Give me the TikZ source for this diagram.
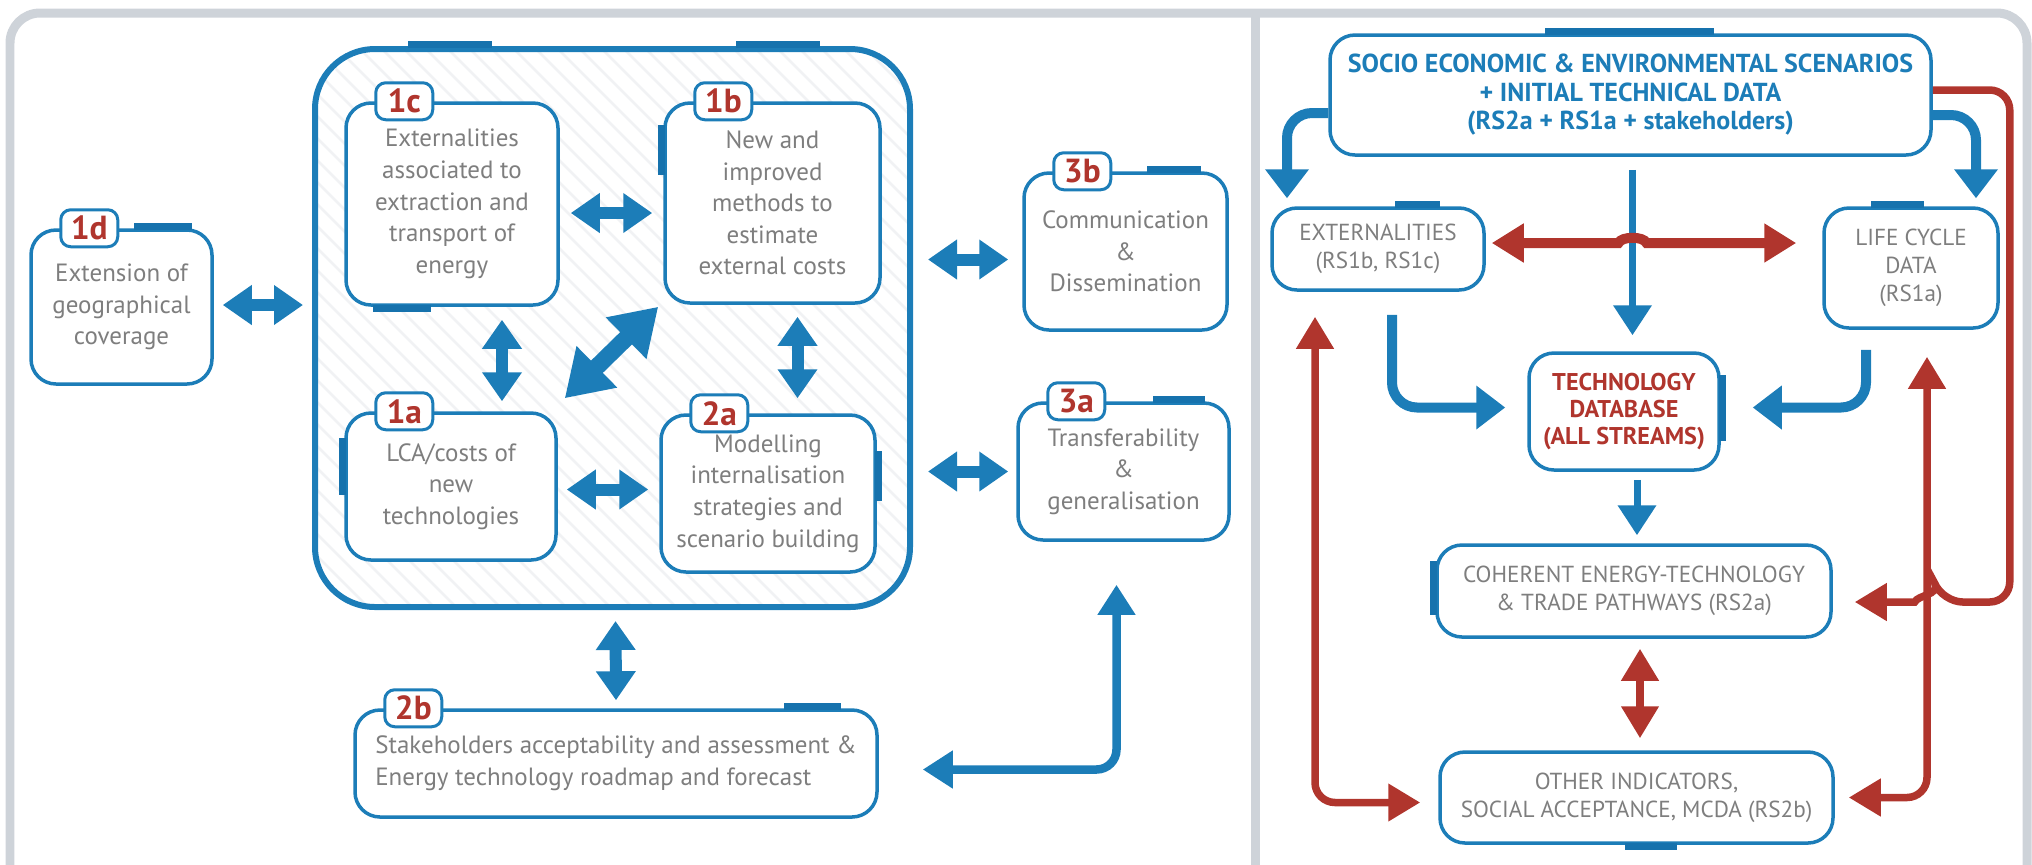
\documentclass[tikz,border=0pt]{standalone}
\usepackage{fontspec}
\setmainfont{PT Sans}
\usepackage{xcolor}
\usepackage{tikz}
\usetikzlibrary{arrows.meta, positioning, calc}

\definecolor{sfblue}{HTML}{1C7DB8}
\definecolor{sfdark}{HTML}{1672AD}
\definecolor{sfred}{HTML}{B0352D}
\definecolor{sfgray}{HTML}{7E7E7E}
\definecolor{sfframe}{HTML}{CED3D9}
\definecolor{sfhatch}{HTML}{F1F2F4}

\begin{document}
\begin{tikzpicture}[x=0.1mm, y=-0.1mm,
    box/.style={draw=sfblue, fill=white, line width=0.35mm, rounded corners=2.5mm,
      inner sep=0pt, align=center, text=sfgray, font=\fontsize{7.1}{9}\selectfont},
    capsbox/.style={box, font=\fontsize{6.6}{8}\selectfont},
    badge/.style={draw=sfblue, fill=white, line width=0.3mm, rounded corners=1mm,
      minimum width=5.7mm, minimum height=3.7mm, inner sep=0pt,
      text=sfred, font=\fontsize{9.5}{10}\selectfont\bfseries},
    tab/.style={draw=sfdark, line width=0.7mm},
    dblarrow/.style={draw=sfblue, line width=1.2mm, >={Triangle[width=3.8mm, length=2.9mm]}, <->},
    diagarrow/.style={draw=sfblue, line width=1.7mm, >={Triangle[width=5.5mm, length=4.5mm]}, <->},
    elbowarrow/.style={draw=sfblue, line width=0.85mm, rounded corners=2mm,
      >={Triangle[width=3.6mm, length=3mm]}, <->},
    flowarrow/.style={draw=sfblue, line width=1mm, rounded corners=2.5mm,
      >={Triangle[width=4.2mm, length=2.9mm]}, ->},
    thinarrow/.style={draw=sfblue, line width=0.7mm, >={Triangle[width=3.7mm, length=3mm]}, ->},
    redarrow/.style={draw=sfred, line width=0.75mm, rounded corners=2mm,
      >={Triangle[width=3.6mm, length=3.2mm]}},
    redblk/.style={draw=sfred, line width=1mm, >={Triangle[width=3.7mm, length=3.2mm]}, <->}
  ]
  \useasboundingbox (0,0) rectangle (2032,864);

  % --- Frame ---
  \draw[sfframe, line width=0.9mm, rounded corners=3mm] (10,13) rectangle (2027,900);
  \draw[sfframe, line width=0.9mm] (1255,13) -- (1255,870);

  % --- Left panel: research streams 1 to 3 ---
  \begin{scope}
    \clip[rounded corners=6mm] (315,49) rectangle (910,607);
    \foreach \k in {0,...,56}
      \draw[sfhatch, line width=0.25mm] (\k*22-300,49) -- ++(600,600);
  \end{scope}
  \node[draw=sfblue, line width=0.6mm, rounded corners=6mm, inner sep=0pt,
    minimum width=59.5mm, minimum height=55.8mm] (grp) at (612.5,328) {};

  \node[box, minimum width=18.1mm, minimum height=15.4mm] (n1d) at (121.5,307)
    {Extension of\\geographical\\coverage};
  \node[box, minimum width=21.2mm, minimum height=20.2mm] (n1c) at (452,204)
    {Externalities\\associated to\\extraction and\\transport of\\energy};
  \node[box, minimum width=21.5mm, minimum height=20mm] (n1b) at (772.5,203)
    {New and\\improved\\methods to\\estimate\\external costs};
  \node[box, minimum width=21mm, minimum height=14.7mm] (n1a) at (451,486.5)
    {LCA/costs of\\new\\technologies};
  \node[box, minimum width=21.4mm, minimum height=15.7mm] (n2a) at (768,493.5)
    {Modelling\\internalisation\\strategies and\\scenario building};
  \node[box, minimum width=20.3mm, minimum height=15.7mm] (n3b) at (1125.5,251.5)
    {Communication\\\&\\Dissemination};
  \node[box, minimum width=21.1mm, minimum height=13.7mm] (n3a) at (1123.5,471.5)
    {Transferability\\\&\\generalisation};
  \node[box, align=left, minimum width=52.2mm, minimum height=10.7mm] (n2b) at (616,763.5)
    {Stakeholders acceptability and assessment \&\\Energy technology roadmap and forecast};

  % tabs
  \draw[tab] ([shift={(105,-2)}]n1d.north west) -- ++(58,0);
  \draw[tab] ([shift={(96,-2)}]grp.north west) -- ++(84,0);
  \draw[tab] ([shift={(424,-2)}]grp.north west) -- ++(84,0);
  \draw[tab] ([shift={(29,2)}]n1c.south west) -- ++(58,0);
  \draw[tab] ([shift={(-2,24)}]n1b.north west) -- ++(0,50);
  \draw[tab] ([shift={(-2,27)}]n1a.north west) -- ++(0,57);
  \draw[tab] ([shift={(2,38)}]n2a.north east) -- ++(0,50);
  \draw[tab] ([shift={(125,-2)}]n3b.north west) -- ++(54,0);
  \draw[tab] ([shift={(137,-2)}]n3a.north west) -- ++(52,0);
  \draw[tab] ([shift={(431,-2)}]n2b.north west) -- ++(57,0);

  \foreach \n/\t in {n1d/1d, n1c/1c, n1b/1b, n1a/1a, n2a/2a, n3b/3b, n3a/3a, n2b/2b}
    \node[badge] (b\t) at ([xshift=6mm]\n.north west) {\t};

  % links
  \draw[dblarrow] ($(n1d.east)+(9,-2)$) -- ($(n1d.east -| grp.west)+(-9,-2)$);
  \draw[dblarrow] ($(n1c.east)+(11,9)$) -- ($(n1c.east -| n1b.west)+(-11,9)$);
  \draw[dblarrow] ($(n1c.south)+(50,13)$) -- ($(n1a.north -| n1c.south)+(50,-10)$);
  \draw[diagarrow] ($(n1a.north east)+(7,-13)$) -- ($(n1b.south west)+(-5,2)$);
  \draw[dblarrow] ($(n1b.south)+(25,12)$) -- ($(n2a.north -| n1b.south)+(25,-15)$);
  \draw[dblarrow] ($(n1a.east)+(9,3)$) -- ($(n1a.east -| n2a.west)+(-11,3)$);
  \draw[dblarrow] ($(n3b.west -| grp.east)+(15,8)$) -- ($(n3b.west)+(-14,8)$);
  \draw[dblarrow] ($(n3a.west -| grp.east)+(15,0)$) -- ($(n3a.west)+(-8,0)$);
  \draw[dblarrow] ($(grp.south)+(3,11)$) -- ($(n2b.north)+(0,-8)$);
  \draw[elbowarrow] ($(n2b.east)+(44,6)$) -| ($(n3a.south)+(-7,43)$);

  % --- Right panel: data flow ---
  \node[box, minimum width=60.1mm, minimum height=12mm, text=sfblue,
    font=\fontsize{7.4}{8.1}\selectfont\bfseries] (socio) at (1630.5,95)
    {SOCIO ECONOMIC \& ENVIRONMENTAL SCENARIOS\\+ INITIAL TECHNICAL DATA\\(RS2a + RS1a + stakeholders)};
  \node[capsbox, minimum width=21.2mm, minimum height=8.2mm] (ext) at (1378,249)
    {EXTERNALITIES\\(RS1b, RS1c)};
  \node[capsbox, minimum width=17.4mm, minimum height=12mm] (lcd) at (1911,268)
    {LIFE CYCLE\\DATA\\(RS1a)};
  \node[box, minimum width=19mm, minimum height=11.7mm, text=sfred,
    font=\fontsize{6.9}{7.8}\selectfont\bfseries] (tdb) at (1624,411.5)
    {TECHNOLOGY\\DATABASE\\(ALL STREAMS)};
  \node[capsbox, minimum width=39.4mm, minimum height=9.2mm] (coh) at (1634,591)
    {COHERENT ENERGY-TECHNOLOGY\\\& TRADE PATHWAYS (RS2a)};
  \node[capsbox, minimum width=39.3mm, minimum height=9.1mm] (oth) at (1636.5,797.5)
    {OTHER INDICATORS,\\SOCIAL ACCEPTANCE, MCDA (RS2b)};

  % tabs
  \draw[tab] ([shift={(217,-2)}]socio.north west) -- ++(169,0);
  \draw[tab] ([shift={(125,-2)}]ext.north west) -- ++(45,0);
  \draw[tab] ([shift={(49,-2)}]lcd.north west) -- ++(53,0);
  \draw[tab] ([shift={(2,24)}]tdb.north east) -- ++(0,66);
  \draw[tab] ([shift={(-2,18)}]coh.north west) -- ++(0,54);
  \draw[tab] ([shift={(187,2)}]oth.south west) -- ++(52,0);

  % blue flows
  \draw[flowarrow] ($(socio.west)+(0,18)$) -| ($(ext.north)+(-91,-8)$);
  \draw[flowarrow] ($(socio.east)+(0,20)$) -| ($(lcd.north)+(65,-8)$);
  \draw[thinarrow] ($(socio.south)+(2,13)$) -- ($(tdb.north -| socio.south)+(2,-16)$);
  \draw[flowarrow] ($(ext.south)+(14,23)$) |- ($(tdb.west)+(-22,-4)$);
  \draw[flowarrow] ($(lcd.south)+(-45,20)$) |- ($(tdb.east)+(32,-4)$);
  \draw[thinarrow] ($(tdb.south)+(13,8)$) -- ($(coh.north -| tdb.south)+(13,-8)$);

  % red feedbacks
  \draw[redblk] ($(ext.east)+(6,-6)$) -- ($(ext.east -| socio.south)+(-12,-6)$)
    .. controls +(3,-7) and +(-3,-7) .. ($(ext.east -| socio.south)+(16,-6)$)
    -- ($(lcd.west)+(-26,-25)$);
  \draw[redarrow, <->] ($(coh.south)+(6,10)$) -- ($(oth.north -| coh.south)+(6,-12)$);
  \draw[redarrow, ->] ($(socio.east)+(0,-5)$) -| ($(coh.east)+(177,11)$)
    -- ($(coh.east)+(110,11)$) [sharp corners]
    .. controls +(-3,-7) and +(3,-7) .. ($(coh.east)+(82,11)$)
    -- ($(coh.east)+(22,11)$);
  \draw[redarrow, <->] ($(lcd.south)+(16,27)$) |- ($(oth.east)+(14,0)$);
  \draw[redarrow, <->] ($(ext.south)+(-63,25)$) |- ($(oth.west)+(-18,5)$);
\end{tikzpicture}
\end{document}
